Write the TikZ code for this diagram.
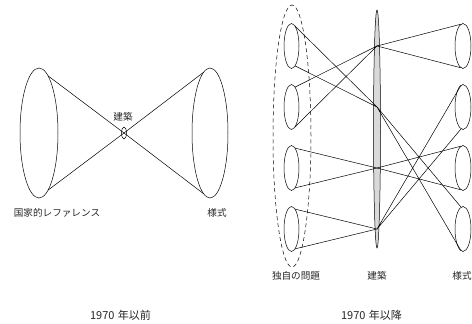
\documentclass[tikz,border=0pt]{standalone}
\usepackage{fontspec}
\newfontfamily\cjk{Noto Sans CJK JP}
\usetikzlibrary{shapes.geometric}
\tikzset{
  cone/.style={ellipse, draw, inner sep=0pt, outer sep=0pt},
  lbl/.style={font=\cjk\fontsize{9.6}{11}\selectfont, text=black!85, inner sep=0pt},
  period/.style={lbl, font=\cjk\fontsize{11}{13}\selectfont},
  link/.style={line width=0.5pt}
}
\begin{document}
\begin{tikzpicture}[x=1pt, y=-1pt, line width=0.5pt]
  \useasboundingbox (0,0) rectangle (472,324);
  % before 1970
  \node[cone, minimum width=38, minimum height=130] (nat) at (39,133) {};
  \node[cone, minimum width=36, minimum height=130] (sty) at (210,133) {};
  \node[cone, minimum width=5, minimum height=12] (arc) at (124,133) {};
  \draw[link] (nat.81) -- (arc.center) -- (sty.-96);
  \draw[link] (nat.-81) -- (arc.center) -- (sty.96);
  \node[lbl] (natl) at (57,213) {国家的レファレンス};
  \node[lbl] (styl) at (217,213) {様式};
  \node[lbl] (arcl) at (123,117) {建築};
  % after 1970
  \node[cone, dash pattern=on 4pt off 3pt, minimum width=38, minimum height=262] (grp) at (292,136) {};
  \node[cone, fill=gray!30, minimum width=7, minimum height=238] (arch) at (377,129) {};
  \foreach \i/\y in {1/46,2/107,3/168,4/229} {
    \node[cone, minimum width=15, minimum height=45] (s\i) at (291.5,\y) {};
    \node[cone, minimum width=16, minimum height=45] (t\i) at (463,\y) {};
    \coordinate (j\i) at (377,\y);
  }
  \foreach \s/\j in {1/2,2/1,3/3,4/4}
    \draw[link] (s\s.80) -- (j\j) -- (s\s.-80);
  \foreach \j/\t in {1/1,2/4,3/3,4/2}
    \draw[link] (t\t.95) -- (j\j) -- (t\t.-95);
  \node[lbl] (grpl) at (296,276) {独自の問題};
  \node[lbl] (archl) at (377,276) {建築};
  \node[lbl] (tl) at (462,276) {様式};
  % periods
  \node[period] (before) at (120.5,315) {1970\hspace{1pt} 年以前};
  \node[period] (after) at (371.5,315) {1970\hspace{1pt} 年以降};
\end{tikzpicture}
\end{document}
